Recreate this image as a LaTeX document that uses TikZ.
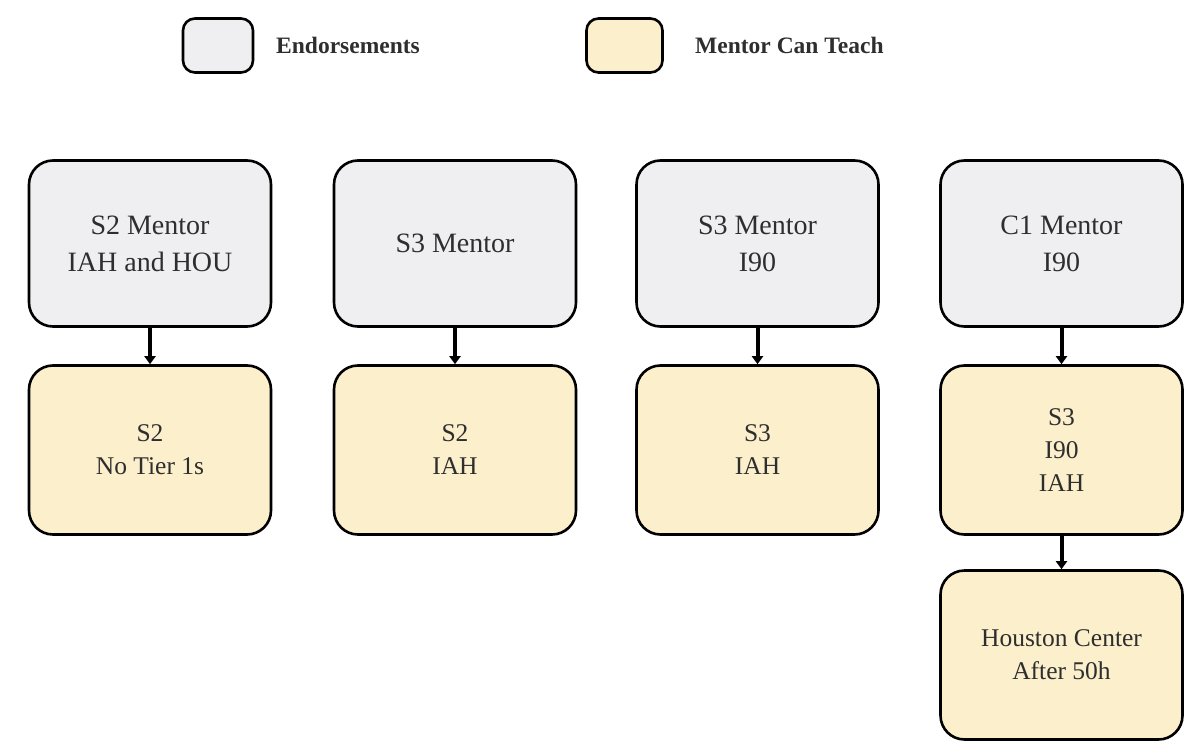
\documentclass[tikz,border=0pt]{standalone}
\usepackage{fontspec}
\setmainfont{Liberation Serif}
\usetikzlibrary{arrows.meta,positioning}
\definecolor{endgray}{HTML}{EFEFF1}
\definecolor{teachyel}{HTML}{FCEFCC}
\definecolor{txt}{HTML}{2E2E2E}
\begin{document}
\begin{tikzpicture}[x=1pt,y=-1pt,
  box/.style={draw=black, line width=2.6pt, rounded corners=24pt, minimum width=242pt,
    align=center, text=txt, inner sep=0pt},
  endbox/.style={box, fill=endgray, minimum height=166pt, font=\fontsize{28}{37}\selectfont},
  teachbox/.style={box, fill=teachyel, minimum height=169pt, font=\fontsize{25.5}{33}\selectfont},
  legbox/.style={draw=black, line width=2.6pt, rounded corners=12pt, minimum width=70pt, minimum height=54pt, inner sep=0pt},
  legtext/.style={anchor=west, font=\bfseries\fontsize{23.5}{26}\selectfont, text=txt, inner sep=0pt},
  arr/.style={line width=4pt, -{Triangle[width=11pt,length=8pt]}}
]
\useasboundingbox (0,0) rectangle (1198,754);
% legend
\node[legbox, fill=endgray] (lg1) at (218,45.5) {};
\node[legtext] (lt1) at (276,45.5) {Endorsements};
\node[legbox, fill=teachyel, minimum width=76pt] (lg2) at (624.5,45.5) {};
\node[legtext] (lt2) at (695,45.5) {Mentor Can Teach};
% column 1
\node[endbox] (a1) at (150,243.5) {S2 Mentor\\IAH and HOU};
\node[teachbox] (a2) at (150,450) {S2\\No Tier 1s};
% column 2
\node[endbox] (b1) at (455,243.5) {S3 Mentor};
\node[teachbox] (b2) at (455,450) {S2\\IAH};
% column 3
\node[endbox] (c1) at (757.5,243.5) {S3 Mentor\\I90};
\node[teachbox] (c2) at (757.5,450) {S3\\IAH};
% column 4
\node[endbox] (d1) at (1061.5,243.5) {C1 Mentor\\I90};
\node[teachbox] (d2) at (1061.5,450) {S3\\I90\\IAH};
\node[teachbox] (d3) at (1061.5,655) {Houston Center\\After 50h};
% arrows
\draw[arr] (a1) -- (a2);
\draw[arr] (b1) -- (b2);
\draw[arr] (c1) -- (c2);
\draw[arr] (d1) -- (d2);
\draw[arr] (d2) -- (d3);
\end{tikzpicture}
\end{document}
